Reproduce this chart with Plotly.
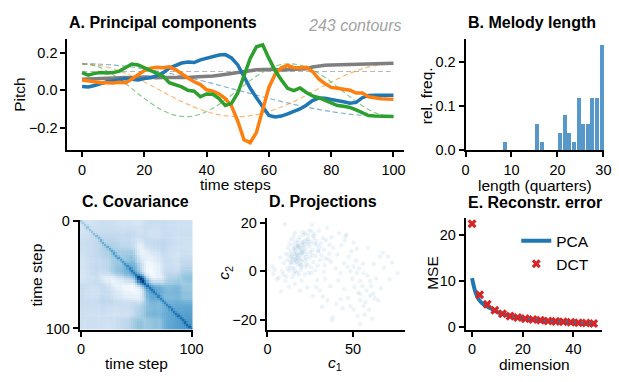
import numpy as np
import plotly.graph_objects as go

W, H = 619, 382
FONT = "Liberation Sans, Arial, sans-serif"

# ---------------- data ----------------
t = list(range(0, 101, 2))
pc_gray = [0.058, 0.060, 0.058, 0.062, 0.063, 0.064, 0.066, 0.068, 0.066, 0.070,
           0.071, 0.069, 0.066, 0.068, 0.068, 0.065, 0.067, 0.068, 0.070, 0.071,
           0.073, 0.076, 0.080, 0.083, 0.089, 0.095, 0.100, 0.106, 0.109, 0.110,
           0.112, 0.110, 0.108, 0.110, 0.109, 0.110, 0.114, 0.124, 0.130, 0.133,
           0.135, 0.136, 0.137, 0.139, 0.140, 0.141, 0.142, 0.143, 0.144, 0.144, 0.144]
pc_blue = [0.020, 0.017, 0.025, 0.036, 0.045, 0.051, 0.058, 0.063, 0.058, 0.055,
           0.062, 0.066, 0.078, 0.092, 0.118, 0.133, 0.145, 0.150, 0.148, 0.162,
           0.172, 0.180, 0.188, 0.190, 0.172, 0.135, 0.075, 0.010, -0.040, -0.090,
           -0.135, -0.143, -0.138, -0.126, -0.115, -0.100, -0.080, -0.055, -0.042, -0.043,
           -0.050, -0.055, -0.062, -0.070, -0.065, -0.040, -0.028, -0.027, -0.027, -0.027, -0.027]
pc_orange = [0.055, 0.050, 0.045, 0.040, 0.040, 0.038, 0.042, 0.040, 0.060, 0.085,
             0.105, 0.118, 0.122, 0.120, 0.125, 0.110, 0.085, 0.065, 0.045, 0.030,
             0.002, -0.005, -0.020, -0.045, -0.085, -0.165, -0.265, -0.280, -0.225, -0.100,
             0.015, 0.085, 0.120, 0.132, 0.120, 0.120, 0.122, 0.100, 0.060, 0.035,
             0.015, 0.010, 0.005, 0.000, -0.015, -0.015, -0.035, -0.042, -0.045, -0.047, -0.048]
pc_green = [0.094, 0.080, 0.090, 0.095, 0.092, 0.094, 0.102, 0.122, 0.140, 0.135,
            0.120, 0.104, 0.092, 0.075, 0.040, 0.030, 0.018, 0.000, -0.005, -0.035,
            -0.020, -0.022, -0.045, -0.082, -0.070, -0.015, 0.080, 0.170, 0.232, 0.242,
            0.170, 0.105, 0.055, 0.010, -0.002, 0.012, -0.012, -0.030, -0.040, -0.055,
            -0.070, -0.082, -0.086, -0.092, -0.105, -0.120, -0.135, -0.138, -0.138, -0.140, -0.140]

t_dct = list(range(0, 101, 5))
dct0 = [0.100] * 21
dct1 = [0.141, 0.140, 0.134, 0.126, 0.114, 0.100, 0.083, 0.064, 0.044, 0.022, 0.000,
        -0.022, -0.044, -0.064, -0.083, -0.100, -0.114, -0.126, -0.134, -0.140, -0.141]
dct2 = [0.141, 0.134, 0.114, 0.083, 0.044, 0.000, -0.044, -0.083, -0.114, -0.134, -0.141,
        -0.134, -0.114, -0.083, -0.044, 0.000, 0.044, 0.083, 0.114, 0.134, 0.141]
dct3 = [0.141, 0.126, 0.083, 0.022, -0.044, -0.100, -0.134, -0.140, -0.114, -0.064, 0.000,
        0.064, 0.114, 0.140, 0.134, 0.100, 0.044, -0.022, -0.083, -0.126, -0.141]

len_bins = [8, 15, 16, 20, 21, 22, 23, 24, 25, 26, 27, 28, 29]
len_freq = [0.02, 0.06, 0.02, 0.04, 0.08, 0.04, 0.02, 0.12, 0.06, 0.06, 0.12, 0.12, 0.24]

eig_vals = [3.0, 1.1, 0.7, 0.35]     # variances of gray, blue, orange, green components
resid_band = [0.026, 0.009]          # residual variance on / next to the diagonal

proj_c1 = [10.1, 16.1, 20.5, 25.7, 34.8, 45.6, 46.2, 50.4, 52.2, 65.6, 70.3, 76.0, 71.3, 5.7, 2.9,
           48.5, 50.4, 54.2, 38.0, 42.8, 30.4, 32.3, 28.5, 61.8, 62.7, 57.9, 54.2, 54.2, 56.1, 54.2,
           59.9, 52.2, 48.5, 42.8, 44.7, 47.5, 50.4, 56.1, 37.1, 33.3, 36.1, 29.5, 30.4, 27.6, 23.8,
           21.9, 18.1, 15.2, 12.3, 11.4, 13.3, 16.1, 18.1, 20.0, 14.2, 16.1, 20.0, 23.8, 8.5, 6.6,
           10.4, 16.1, 20.0, 21.9, 25.7,
           14.2, 15.8, 17.3, 18.6, 19.4, 16.7, 13.5, 20.9, 22.3, 17.8, 15.1, 19.9, 21.4, 18.1, 16.4,
           14.8, 23.1, 24.7, 26.3, 25.1, 20.3, 17.0, 18.9, 22.0, 15.6, 13.0, 12.1, 19.1, 21.7, 23.9,
           27.2, 28.9, 26.8, 24.0, 18.4, 14.6, 11.7, 10.8, 9.6, 16.0, 17.6, 20.6, 19.6, 22.8, 25.9,
           29.8, 31.2, 28.1, 30.7, 32.9, 34.1, 27.6, 24.4, 21.1, 13.9, 12.8, 15.3, 18.0, 16.9, 20.0,
           21.9, 23.6, 14.4, 17.4, 19.2, 15.0, 18.7, 16.2, 20.4, 22.6,
           35.5, 38.2, 39.9, 33.6, 36.8, 40.7, 43.1, 41.5, 44.9, 46.8, 48.9, 51.6, 53.5, 55.8, 58.4,
           60.6, 63.4, 66.2, 68.1, 72.8, 57.2, 59.3, 52.7, 47.1, 44.0, 40.1, 35.0, 31.9, 37.6, 50.9,
           56.7, 61.2, 64.7, 62.0, 67.3, 58.8, 45.0, 41.8, 37.3, 30.0, 26.0, 33.0, 29.1, 26.5, 23.2,
           19.0, 12.5, 8.0, 4.2, 7.4, 9.1, 3.5, 49.6, 53.0, 55.5, 60.0,
           17.2, 18.5, 19.8, 15.9, 21.2, 16.6, 14.0, 22.5, 24.9, 26.0, 13.6, 18.2, 20.8, 23.0, 19.5,
           17.5, 15.4, 12.9, 11.0, 25.5, 27.9, 29.4, 31.5, 33.8, 36.2, 32.4, 28.6, 26.6, 24.2, 22.1]
proj_c2 = [19.3, 15.7, 16.0, 16.3, 17.7, 14.4, 15.0, 11.8, 9.2, 5.9, 5.9, -0.7, -3.3, -3.3, 2.0,
           -14.4, -15.7, -21.6, -19.0, -11.4, -7.9, -10.5, -6.6, -9.2, -11.2, -7.9, -9.2, -11.8, -14.4, -4.0,
           -4.0, -0.7, 0.0, -0.7, 3.3, 5.9, 2.0, -0.7, 3.9, 2.6, 7.2, 8.5, 9.8, 11.2, 13.1,
           11.2, 10.5, 9.2, 6.6, 4.6, 3.9, 4.6, 6.6, 7.9, 1.3, 0.0, 2.6, 2.6, 0.0, -2.6,
           -3.9, -5.2, -3.9, -1.3, -0.7,
           5.8, 7.2, 4.1, 8.8, 5.2, 9.9, 8.1, 6.4, 9.3, 2.7, 3.3, 11.6, 4.5, 12.9, 6.0,
           10.7, 7.0, 10.2, 8.7, 5.6, 9.0, 7.6, 3.0, 1.6, 1.1, 2.3, 9.5, 14.0, 12.4, 14.8,
           13.6, 10.8, 3.8, -0.6, -1.4, -2.5, 1.0, 7.3, 3.4, 12.2, 10.6, 7.8, 1.9, 4.9, 11.9,
           8.1, 11.4, 6.3, 4.6, 8.9, 12.7, 15.2, 16.8, 14.9, 13.0, 11.3, 14.2, 5.5, 3.7, 4.0,
           8.1, 11.1, 7.0, 11.5, 9.6, 5.0, 7.0, 8.3, 10.8, 6.0,
           4.8, 9.6, 1.2, -3.1, -6.2, 6.9, 10.8, -3.8, -7.4, 1.7, 8.2, 4.4, 1.1, 3.2, -1.8,
           -6.0, -3.0, -6.9, 1.4, 3.6, -12.6, -15.8, -18.4, -11.0, -15.2, -13.3, -11.9, -14.6, -20.2, -6.6,
           -17.8, -19.5, -12.0, 3.0, 7.6, 9.6, 12.7, 15.6, 13.9, 16.6, 19.0, -0.2, -3.6, -10.1, -6.8,
           -8.0, -6.4, -8.2, 0.6, 5.6, -1.3, -1.0, -3.1, -8.8, -6.0, -10.0,
           6.7, 4.7, 7.4, 9.1, 10.1, 5.1, 3.9, 3.0, 8.0, 6.8, 5.6, 9.7, 12.0, 12.9, 0.6,
           -0.4, -0.9, 0.2, -2.0, 1.5, 0.4, 2.3, 6.6, 5.3, 10.8, 13.6, 12.4, 14.6, 12.0, 15.6]

pca_dim = [0, 1, 2, 3, 4, 5, 6, 7, 8, 10, 12, 14, 17, 20, 25, 30, 35, 40, 45, 49]
pca_mse = [10.6, 8.2, 6.6, 5.7, 5.1, 4.7, 4.4, 4.1, 3.8, 3.2, 2.8, 2.5, 2.1, 1.8, 1.45, 1.2, 1.0, 0.8, 0.62, 0.48]
dct_dim = [0, 3, 6, 9, 12, 15, 18, 21, 24, 27, 30, 33, 36, 39, 42, 45, 48]
dct_mse = [22.5, 7.0, 4.9, 3.6, 2.8, 2.3, 2.0, 1.75, 1.55, 1.4, 1.25, 1.15, 1.05, 0.95, 0.85, 0.78, 0.7]

# ---------------- styles ----------------
C_BLUE, C_ORANGE, C_GREEN, C_GRAY, C_RED = "#1f77b4", "#ff7f0e", "#2ca02c", "#7f7f7f", "#d62728"
BLUES = [[0.0, "#f7fbff"], [0.125, "#deebf7"], [0.25, "#c6dbef"], [0.375, "#9ecae1"],
         [0.5, "#6baed6"], [0.625, "#4292c6"], [0.75, "#2171b5"], [0.875, "#08519c"], [1.0, "#08306b"]]


def fx(px):
    return px / W


def fy(py):
    return 1 - py / H


# covariance built from the components and their variances
V = np.array([pc_gray, pc_blue, pc_orange, pc_green])
cov = (V.T * np.array(eig_vals)) @ V
n = len(t)
for k, r in enumerate(resid_band):
    i = np.arange(n - k)
    cov[i, i + k] += r
    if k:
        cov[i + k, i] += r

fig = go.Figure()

# A. principal components
for vals, col in [(dct0, C_GRAY), (dct1, C_BLUE), (dct2, C_ORANGE), (dct3, C_GREEN)]:
    fig.add_trace(go.Scatter(x=t_dct, y=vals, mode="lines", line=dict(color=col, width=1.2, dash="5px,3px", shape="spline"),
                             opacity=0.55, showlegend=False, xaxis="x", yaxis="y"))
for vals, col in [(pc_gray, C_GRAY), (pc_blue, C_BLUE), (pc_orange, C_ORANGE), (pc_green, C_GREEN)]:
    fig.add_trace(go.Scatter(x=t, y=vals, mode="lines", line=dict(color=col, width=3.5),
                             showlegend=False, xaxis="x", yaxis="y"))

# B. melody length
fig.add_trace(go.Bar(x=[b + 0.5 for b in len_bins], y=len_freq, width=0.85,
                     marker=dict(color="rgb(86,152,201)", line=dict(width=0)),
                     showlegend=False, xaxis="x2", yaxis="y2"))

# C. covariance
fig.add_trace(go.Heatmap(x=t, y=t, z=cov, colorscale=BLUES, showscale=False, zsmooth=False,
                         xaxis="x3", yaxis="y3"))

# D. projections
fig.add_trace(go.Scatter(x=proj_c1, y=proj_c2, mode="markers",
                         marker=dict(color=C_BLUE, size=4.5, opacity=0.08, line=dict(width=0)),
                         showlegend=False, xaxis="x4", yaxis="y4"))

# E. reconstruction error
fig.add_trace(go.Scatter(x=pca_dim, y=pca_mse, mode="lines", name="PCA",
                         line=dict(color=C_BLUE, width=4, shape="spline"), xaxis="x5", yaxis="y5"))
fig.add_trace(go.Scatter(x=dct_dim, y=dct_mse, mode="markers", name="DCT",
                         marker=dict(color=C_RED, symbol="x", size=8, line=dict(width=0)),
                         xaxis="x5", yaxis="y5"))


def axis(domain, rng, tickvals, anchor, fmt=None):
    d = dict(domain=domain, range=rng, tickvals=tickvals, anchor=anchor,
             showline=True, linewidth=2, linecolor="black", ticks="outside",
             ticklen=5, tickwidth=1.5, tickcolor="black", showgrid=False, zeroline=False,
             tickfont=dict(size=14.5, color="black", family=FONT), fixedrange=True)
    if fmt:
        d["tickformat"] = fmt
    return d


yA = [fy(149), fy(33)]
yC = [fy(335.7), fy(221.7)]
yD = [fy(335.7), fy(220)]

layout = dict(
    width=W, height=H, margin=dict(l=0, r=0, t=0, b=0),
    paper_bgcolor="white", plot_bgcolor="white",
    font=dict(family=FONT, color="black"),
    xaxis=axis([fx(65), fx(410)], [-4.7, 103.4], [0, 20, 40, 60, 80, 100], "y"),
    yaxis=axis(yA, [-0.32, 0.275], [-0.2, 0.0, 0.2], "x", fmt=".1f"),
    xaxis2=axis([fx(473), fx(615)], [0, 30.15], [0, 10, 20, 30], "y2"),
    yaxis2=axis(yA, [0, 0.253], [0.0, 0.1, 0.2], "x2", fmt=".1f"),
    xaxis3=axis([fx(77.7), fx(193.3)], [-1, 101], [0, 100], "y3"),
    yaxis3=axis(yC, [101, -1], [0, 100], "x3"),
    xaxis4=axis([fx(269.3), fx(410.7)], [-0.4, 80.2], [0, 50], "y4"),
    yaxis4=axis(yD, [-23.9, 21.7], [-20, 0, 20], "x4"),
    xaxis5=axis([fx(473.3), fx(613.3)], [-2.45, 51.45], [0, 20, 40], "y5"),
    yaxis5=axis(yD, [-0.63, 23.7], [0, 10, 20], "x5"),
    legend=dict(x=fx(525), y=fy(226), xanchor="left", yanchor="top",
                font=dict(size=15.5, family=FONT, color="black"), bgcolor="rgba(0,0,0,0)",
                tracegroupgap=0, itemwidth=30),
    showlegend=True,
    bargap=0,
)

ann = []


def text(s, px, py, size=15.5, anchor="center", color="black", angle=0):
    ann.append(dict(text=s, x=fx(px), y=fy(py), xref="paper", yref="paper", showarrow=False,
                    xanchor=anchor, yanchor="middle", textangle=angle,
                    font=dict(size=size, family=FONT, color=color)))


# titles
text("<b>A. Principal components</b>", 65, 16, size=16, anchor="left")
text("<i>243 contours</i>", 410, 19, size=16, anchor="right", color="#a3a3a3")
text("<b>B. Melody length</b>", 473, 16, size=16, anchor="left")
text("<b>C. Covariance</b>", 77.7, 202, size=16, anchor="left")
text("<b>D. Projections</b>", 269.3, 202, size=16, anchor="left")
text("<b>E. Reconstr. error</b>", 473.3, 203, size=16, anchor="left")
# axis labels
text("time steps", 237.5, 185)
text("Pitch", 15.7, 91, angle=-90)
text("length (quarters)", 544, 185.5)
text("rel. freq.", 433.3, 92, angle=-90)
text("time step", 135.5, 371.5)
text("time step", 33.3, 279, angle=-90)
text("<i>c</i><sub>1</sub>", 339, 371)
text("<i>c</i><sub>2</sub>", 226, 277, angle=-90)
text("dimension", 543.3, 372.5)
text("MSE", 438.3, 277, angle=-90)

layout["annotations"] = ann
fig.update_layout(**layout)
fig.write_html("out.html", config={"displayModeBar": False})
